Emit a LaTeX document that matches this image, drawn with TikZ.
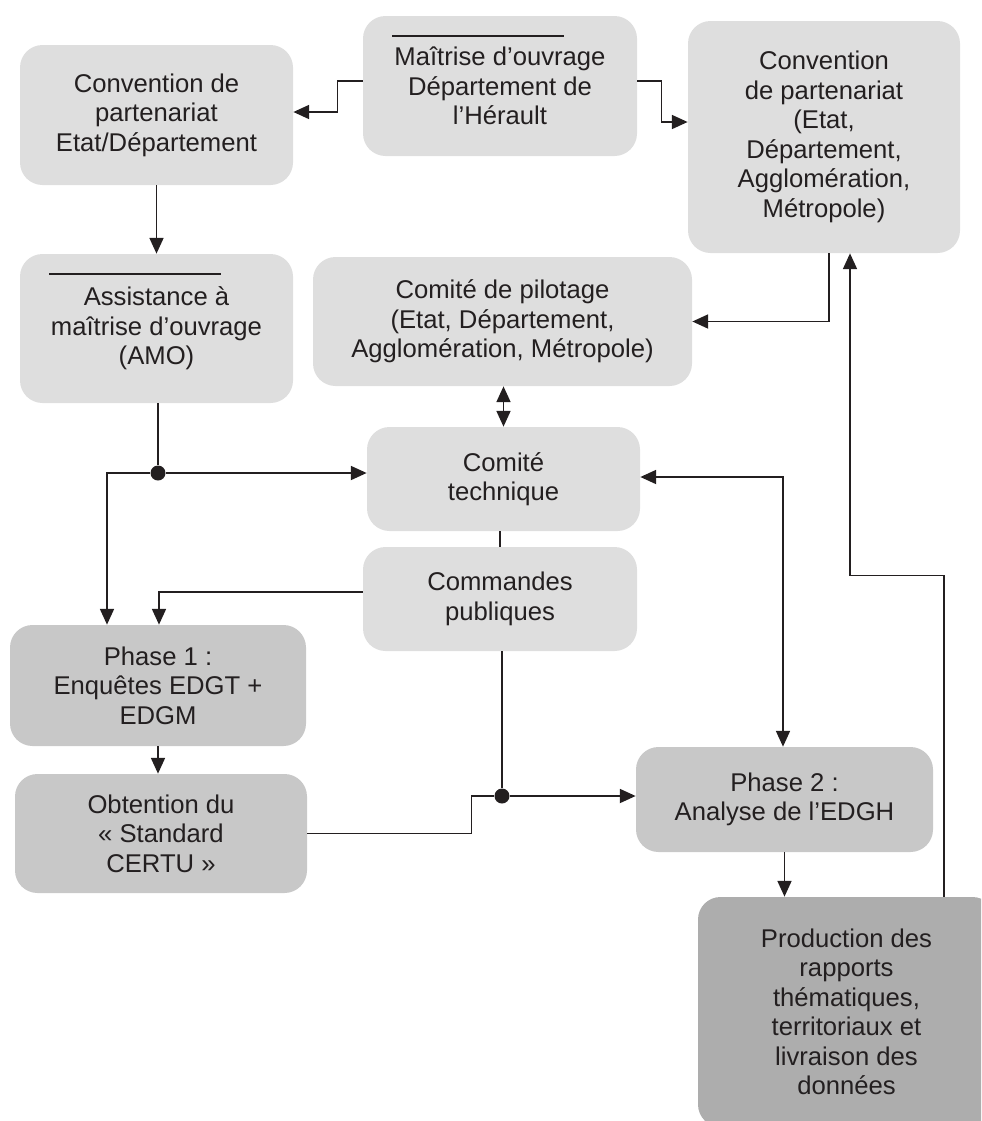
\documentclass[tikz,border=0pt]{standalone}
\usepackage{fontspec}
\setmainfont{Liberation Sans}
\usetikzlibrary{arrows.meta}

\definecolor{boxlight}{HTML}{DEDEDE}
\definecolor{boxmid}{HTML}{C8C8C8}
\definecolor{boxdark}{HTML}{ADADAD}
\definecolor{ink}{HTML}{231F20}

\begin{document}
\begin{tikzpicture}[
    box/.style={fill=boxlight, rounded corners=0.45cm, align=center, text=ink,
      font=\fontsize{14.6}{16.8}\selectfont, inner sep=0pt},
    phasebox/.style={box, fill=boxmid},
    endbox/.style={box, fill=boxdark},
    link/.style={draw=ink, line width=0.9pt},
    arr/.style={link, -{Triangle[length=9pt,width=8pt]}},
    dblarr/.style={link, {Triangle[length=9pt,width=8pt]}-{Triangle[length=9pt,width=8pt]}},
    junction/.style={circle, fill=ink, inner sep=0pt, minimum size=0.3cm}
]
    \useasboundingbox (0,0) rectangle (19.62,-22.42);
    \clip (0,0) rectangle (19.62,-22.42);

    % Maîtrise d'ouvrage et conventions
    \node[box, minimum width=5.46cm, minimum height=2.80cm] (conv1) at (3.13,-2.30) {Convention de\\partenariat\\Etat/Département};
    \node[box, minimum width=5.48cm, minimum height=2.80cm] (mo) at (10.00,-1.72) {Maîtrise d’ouvrage\\Département de\\l’Hérault};
    \node[box, minimum width=5.44cm, minimum height=4.64cm] (conv2) at (16.48,-2.74) {Convention\\de partenariat\\(Etat,\\Département,\\Agglomération,\\Métropole)};
    \draw[link, line width=0.6pt] (7.84,-0.72) -- (11.28,-0.72);

    % AMO et comités
    \node[box, minimum width=5.46cm, minimum height=2.98cm] (amo) at (3.13,-6.57) {Assistance à\\maîtrise d’ouvrage\\(AMO)};
    \draw[link, line width=0.6pt] (0.98,-5.48) -- (4.42,-5.48);
    \node[box, minimum width=7.58cm, minimum height=2.58cm] (copil) at (10.05,-6.43) {Comité de pilotage\\(Etat, Département,\\Agglomération, Métropole)};
    \node[box, minimum width=5.46cm, minimum height=2.08cm] (cotech) at (10.07,-9.58) {Comité\\technique};
    \node[box, minimum width=5.48cm, minimum height=2.08cm] (cmd) at (10.00,-11.98) {Commandes\\publiques};

    % Phases
    \node[phasebox, minimum width=5.92cm, minimum height=2.42cm] (ph1) at (3.16,-13.71) {Phase 1 :\\Enquêtes EDGT +\\EDGM};
    \node[phasebox, minimum width=5.84cm, minimum height=2.38cm] (certu) at (3.22,-16.67) {Obtention du\\« Standard\\CERTU »};
    \node[phasebox, minimum width=5.94cm, minimum height=2.10cm] (ph2) at (15.69,-15.99) {Phase 2 :\\Analyse de l’EDGH};
    \node[endbox, minimum width=5.94cm, minimum height=4.60cm] (prod) at (16.93,-20.24) {Production des\\rapports\\thématiques,\\territoriaux et\\livraison des\\données};

    % Maîtrise d'ouvrage vers les conventions
    \draw[arr] ([yshift=0.1cm]mo.west) -- ++(-0.5,0) |- ([yshift=0.06cm]conv1.east);
    \draw[arr] ([yshift=0.1cm]mo.east) -- ++(0.48,0) |- ([yshift=0.3cm]conv2.west);
    \draw[arr] (conv1) -- (amo);
    \draw[arr] ([xshift=0.1cm]conv2.south) |- (copil.east);
    \draw[dblarr] (copil.south -| cotech.north) -- (cotech.north);

    % AMO vers comité technique et phase 1
    \node[junction] (j1) at (3.16,-9.46) {};
    \draw[link] (amo.south -| j1) -- (j1);
    \draw[arr] (j1) -- (j1 -| cotech.west);
    \draw[arr] (j1) -| ([xshift=-1.02cm]ph1.north);

    % Commandes publiques
    \draw[link] (cmd.north) -- (cmd.north |- cotech.south);
    \draw[arr] ([yshift=0.14cm]cmd.west) -| ([xshift=0.02cm]ph1.north);

    % Phase 1 vers Phase 2
    \draw[arr] (ph1.south) -- (ph1.south |- certu.north);
    \node[junction] (j2) at (10.04,-15.92) {};
    \draw[link] (certu.east) -- ++(3.28,0) |- (j2);
    \draw[link] (cmd.south -| j2) -- (j2);
    \draw[arr] (j2) -- (j2 -| ph2.west);
    \draw[dblarr] ([yshift=0.04cm]cotech.east) -| ([xshift=-0.03cm]ph2.north);

    % Production et retour
    \draw[arr] (ph2.south) -- (ph2.south |- prod.north);
    \draw[arr] ([xshift=1.95cm]prod.north) -- ++(0,6.42) -| ([xshift=0.52cm]conv2.south);
\end{tikzpicture}
\end{document}
